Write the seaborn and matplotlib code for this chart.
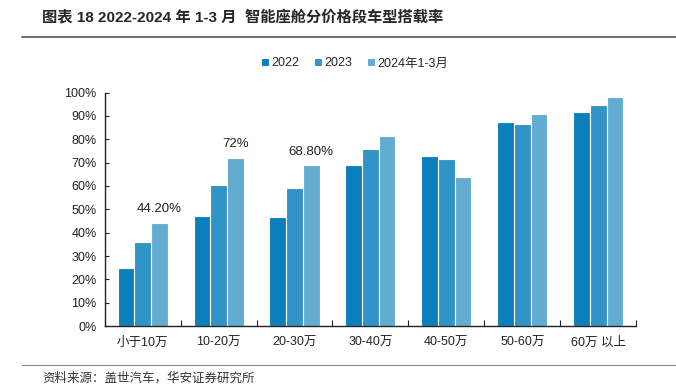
import pandas as pd
import matplotlib
matplotlib.use('Agg')
import matplotlib.pyplot as plt
import seaborn as sns
from matplotlib.ticker import PercentFormatter, FixedLocator

# chart data
categories = ['小于10万', '10-20万', '20-30万', '30-40万', '40-50万', '50-60万', '60万 以上']
series_names = ['2022', '2023', '2024年1-3月']
v2022 = [25.0, 47.1, 46.7, 69.0, 72.7, 87.6, 91.6]
v2023 = [36.1, 60.4, 59.1, 75.9, 71.6, 86.6, 94.6]
v2024 = [44.2, 72.0, 68.8, 81.6, 64.0, 90.7, 98.3]
labels_2024 = ['44.20%', '72%', '68.80%']
colors = ['#0B7FBC', '#3194C7', '#63ACD1']

rows = []
for name, vals in zip(series_names, [v2022, v2023, v2024]):
    for c, v in zip(categories, vals):
        rows.append({'category': c, 'series': name, 'value': v})
df = pd.DataFrame(rows)

sns.set_style('white')
plt.rcParams['font.family'] = ['Liberation Sans', 'Noto Sans CJK SC']
plt.rcParams['axes.unicode_minus'] = False

fig = plt.figure(figsize=(6.76, 3.86), dpi=100)
ax = fig.add_axes([0.155, 0.1554, 0.786, 0.6046])

sns.barplot(data=df, x='category', y='value', hue='series', palette=colors,
            width=0.66, edgecolor='white', linewidth=0.8, saturation=1, ax=ax)

ax.set_ylim(0, 100)
ax.set_xlim(-0.5, len(categories) - 0.5)
ax.yaxis.set_major_locator(FixedLocator(range(0, 101, 10)))
ax.yaxis.set_major_formatter(PercentFormatter(decimals=0))
ax.set_xlabel('')
ax.set_ylabel('')

for s in ['top', 'right']:
    ax.spines[s].set_visible(False)
for s in ['left', 'bottom']:
    ax.spines[s].set_color('#222222')
    ax.spines[s].set_linewidth(1.0)

ax.tick_params(axis='y', direction='in', length=3, width=0.8, labelsize=9, pad=6, colors='#222222', left=True)
ax.tick_params(axis='x', which='major', length=0, labelsize=9, pad=8, colors='#222222')
ax.set_xticks([i - 0.5 for i in range(len(categories) + 1)], minor=True)
ax.tick_params(axis='x', which='minor', direction='in', length=4, width=0.8, color='#222222', bottom=True)

# value labels on the first three 2024 bars
for patch, lab in zip(ax.containers[2], labels_2024):
    ax.text(patch.get_x() + patch.get_width() / 2, patch.get_height() + 3.3, lab,
            ha='center', va='bottom', fontsize=9.5, color='#222222')

handles, lbls = ax.get_legend_handles_labels()
ax.legend(handles, lbls, loc='center', bbox_to_anchor=(0.47, 1.125), ncol=3, frameon=False,
          fontsize=9, handlelength=0.6, handleheight=0.6, handletextpad=0.2, columnspacing=1.2)

fig.text(0.062, 0.953, '图表 18 2022-2024 年 1-3 月  智能座舱分价格段车型搭载率', fontsize=11,
         fontweight='bold', va='center', ha='left', family=['Liberation Sans', 'Noto Sans CJK SC'])
fig.add_artist(plt.Line2D([0.033, 1.0], [0.904, 0.904], color='#555555', linewidth=1.2))
fig.add_artist(plt.Line2D([0.033, 1.0], [0.055, 0.055], color='#888888', linewidth=0.8))
fig.text(0.062, 0.02, '资料来源：盖世汽车，华安证券研究所', fontsize=9, va='center', ha='left',
         color='#333333', family=['Noto Sans CJK SC'])

fig.savefig('out.png', dpi=100)
